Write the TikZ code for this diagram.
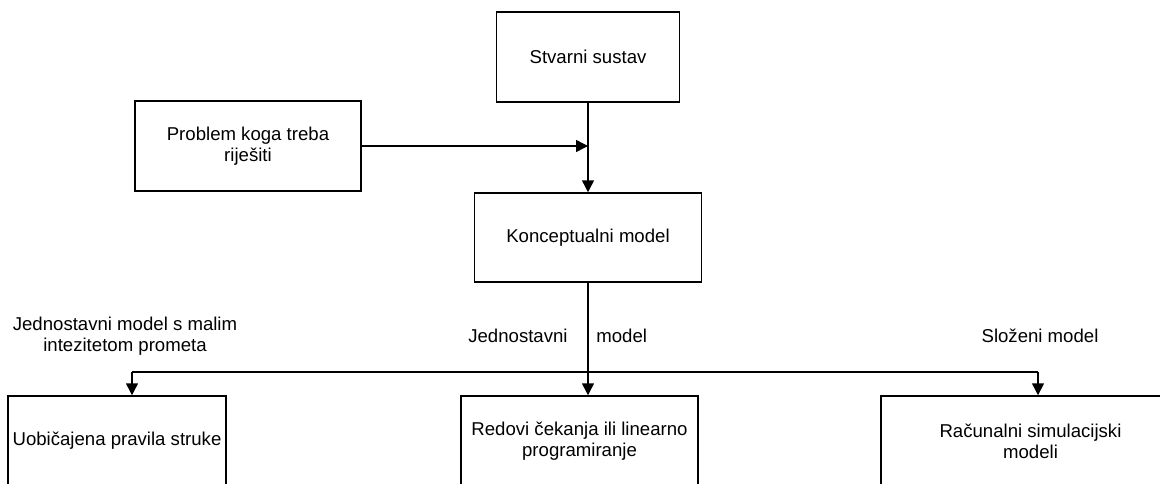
\documentclass[tikz,border=0pt]{standalone}
\usepackage{fontspec}
\setmainfont{Liberation Sans}
\usetikzlibrary{arrows.meta}

\begin{document}
\begin{tikzpicture}[x=0.5pt,y=-0.5pt,
    box/.style={shape=rectangle,draw=black,line width=0.75pt,align=center,
        font=\fontsize{9.3}{10.5}\selectfont,inner sep=0pt},
    lbl/.style={align=center,font=\fontsize{9.3}{10.5}\selectfont,inner sep=0pt},
    arr/.style={line width=0.75pt,-{Triangle[length=6pt,width=6pt]}},
    ln/.style={line width=0.75pt}]
    \clip (0,0) rectangle (1160,483);
    \fill[white] (0,0) rectangle (1160,483);

    \node[box,minimum width=91.5pt,minimum height=45pt] (stvarni) at (588,57) {Stvarni sustav};
    \node[box,minimum width=113pt,minimum height=45pt] (problem) at (248,146) {Problem koga treba\\rije\v{s}iti};
    \node[box,minimum width=113.5pt,minimum height=44.5pt] (konc) at (588,237.5) {Konceptualni model};
    \node[box,minimum width=109pt,minimum height=45pt] (uobic) at (117,441) {Uobi\v{c}ajena pravila struke};
    \node[box,minimum width=118.5pt,minimum height=45pt] (redovi) at (579.5,441) {Redovi \v{c}ekanja ili linearno\\programiranje};
    \node[box,minimum width=149.5pt,minimum height=45pt] (racun) at (1030.5,441) {Ra\v{c}unalni simulacijski\\modeli};

    \node[lbl] (jmm) at (125,336) {Jednostavni model s malim\\intezitetom prometa};
    \node[lbl,anchor=east] (jed) at (568,336) {Jednostavni};
    \node[lbl,anchor=west] (mod) at (596,336) {model};
    \node[lbl] (slozeni) at (1040,336) {Slo\v{z}eni model};

    \coordinate (split) at (588,372);
    \coordinate (lbend) at (132,372);
    \coordinate (rbend) at (1038,372);

    \draw[arr] (stvarni) -- (konc);
    \draw[arr] (problem) -- (problem -| konc);
    \draw[arr] (konc) -- (konc |- redovi.north);
    \draw[ln] (lbend) -- (rbend);
    \draw[arr] (lbend) -- (lbend |- uobic.north);
    \draw[arr] (rbend) -- (rbend |- racun.north);
\end{tikzpicture}
\end{document}
